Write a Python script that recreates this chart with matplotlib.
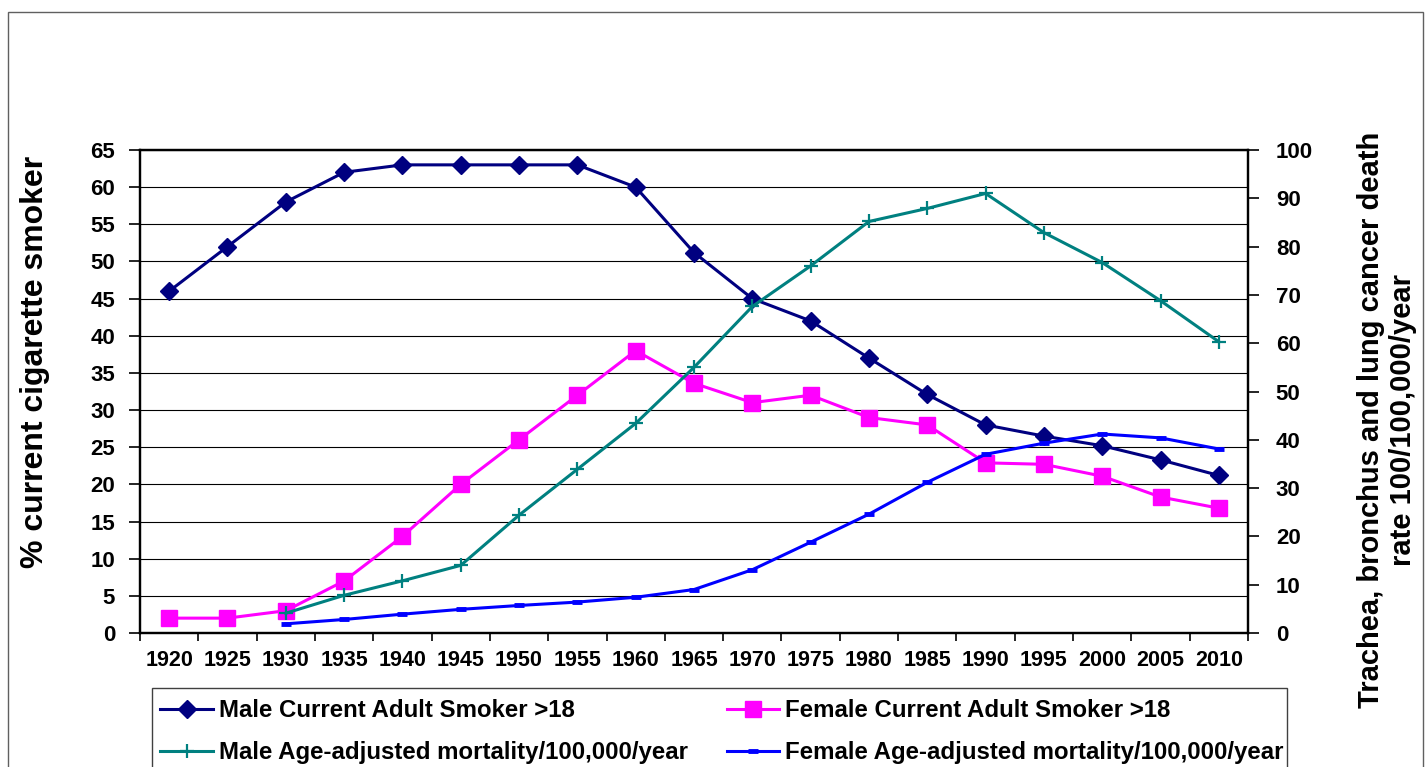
import numpy as np
import matplotlib
matplotlib.use("Agg")
import matplotlib.pyplot as plt
from matplotlib.patches import Rectangle

# ==========================================
# DATA
# ==========================================

years = [1920, 1925, 1930, 1935, 1940, 1945, 1950, 1955, 1960, 1965,
         1970, 1975, 1980, 1985, 1990, 1995, 2000, 2005, 2010]

male_smoker = [46, 52, 58, 62, 63, 63, 63, 63, 60, 51.2,
               45, 42, 37, 32.1, 28, 26.5, 25.2, 23.3, 21.2]

female_smoker = [2, 2, 3, 7, 13, 20, 26, 32, 38, 33.6,
                 31, 32, 29, 28, 22.9, 22.7, 21.1, 18.3, 16.8]

mort_years = [1930, 1935, 1940, 1945, 1950, 1955, 1960, 1965, 1970,
              1975, 1980, 1985, 1990, 1995, 2000, 2005, 2010]

male_mort = [4.1, 7.8, 10.8, 14.0, 24.4, 33.9, 43.4, 55.0, 67.6,
             76.0, 85.2, 87.9, 91.0, 82.9, 76.7, 68.8, 60.3]

female_mort = [1.9, 2.8, 3.9, 4.9, 5.7, 6.4, 7.4, 9.0, 13.1,
               18.8, 24.6, 31.2, 37.0, 39.3, 41.2, 40.4, 38.1]

labels = [
    "Male Current Adult Smoker >18",
    "Male Age-adjusted mortality/100,000/year",
    "Female Current Adult Smoker >18",
    "Female Age-adjusted mortality/100,000/year",
]

# ==========================================
# FIGURE
# ==========================================

plt.rcParams["font.family"] = ["Liberation Sans", "DejaVu Sans"]
plt.rcParams["font.weight"] = "bold"

W, H = 1427, 767
fig = plt.figure(figsize=(W / 100, H / 100), dpi=100)

left, right, top, bottom = 140, 1248, 150, 633
ax = fig.add_axes([left / W, 1 - bottom / H, (right - left) / W, (bottom - top) / H])
ax2 = ax.twinx()

# smokers on the left axis
l1, = ax.plot(years, male_smoker, color="#000080", linewidth=2.2,
              marker="D", markersize=9, zorder=4)
l3, = ax.plot(years, female_smoker, color="#FF00FF", linewidth=2.2,
              marker="s", markersize=11, zorder=4)

# mortality on the right axis
l2, = ax2.plot(mort_years, male_mort, color="#008080", linewidth=2.2,
               marker="+", markersize=10, markeredgewidth=1.6)
l4, = ax2.plot(mort_years, female_mort, color="#0000FF", linewidth=2.2,
               marker="_", markersize=7, markeredgewidth=3.5)

# ==========================================
# AXES
# ==========================================

ax.set_xlim(1917.5, 2012.5)
ax.set_ylim(0, 65)
ax2.set_ylim(0, 100)

ax.set_yticks(np.arange(0, 66, 5))
ax2.set_yticks(np.arange(0, 101, 10))
ax.set_xticks(years)
ax.set_xticks(np.arange(1917.5, 2013, 5), minor=True)

ax.yaxis.grid(True, color="black", linewidth=0.8)
ax.set_axisbelow(True)

ax.tick_params(axis="x", which="major", length=0, pad=12, labelsize=15.5)
ax.tick_params(axis="x", which="minor", length=6, width=1.2, direction="out")
ax.tick_params(axis="y", length=8, width=1.2, direction="out", pad=10, labelsize=16)
ax2.tick_params(axis="y", length=8, width=1.2, direction="out", pad=12, labelsize=16)

for a in (ax, ax2):
    for s in a.spines.values():
        s.set_linewidth(1.6)

ax.patch.set_visible(False)

# axis titles
fig.text(35 / W, 1 - 362 / H, "% current cigarette smoker", rotation=90,
         ha="center", va="center", fontsize=23, fontweight="bold")
fig.text(1387 / W, 1 - 420 / H,
         "Trachea, bronchus and lung cancer death\nrate 100/100,000/year",
         rotation=90, ha="center", va="center", multialignment="center",
         fontsize=21, fontweight="bold", linespacing=1.15)

# ==========================================
# LEGEND
# ==========================================

leg = fig.legend([l1, l2, l3, l4], labels, ncol=2, frameon=False,
                 loc="upper left", bbox_to_anchor=(149 / W, 1 - 688 / H),
                 fontsize=17.25, handlelength=2.2, handletextpad=0.25,
                 columnspacing=1.62, labelspacing=0.78, borderpad=0.47,
                 borderaxespad=0)

fig.patches.append(Rectangle((152 / W, -0.05), (1287 - 152) / W, 0.05 + (1 - 688 / H),
                             transform=fig.transFigure, fill=False,
                             edgecolor="#404040", linewidth=1.0))

# outer chart border
fig.patches.append(Rectangle((8 / W, -0.05), (1423 - 8) / W, 0.05 + (1 - 12 / H),
                             transform=fig.transFigure, fill=False,
                             edgecolor="#606060", linewidth=1.0))

plt.savefig("out.png", dpi=100)
